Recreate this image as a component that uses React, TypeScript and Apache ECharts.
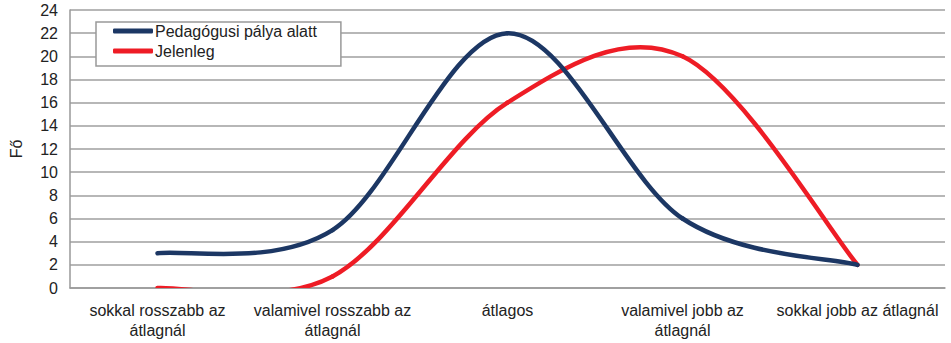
import React, { useEffect, useRef } from "react";
import * as echarts from "echarts";

const categories = [
  "sokkal rosszabb az\nátlagnál",
  "valamivel rosszabb az\nátlagnál",
  "átlagos",
  "valamivel jobb az\nátlagnál",
  "sokkal jobb az átlagnál",
];
const seriesNames = ["Pedagógusi pálya alatt", "Jelenleg"];
const duringCareer = [3, 5, 22, 6, 2];
const currently = [0, 1, 16, 20, 2];
const yTicks = { min: 0, max: 24, interval: 2 };

const FONT = "'Liberation Sans', Arial, sans-serif";
const BLUE = "#1c3764";
const RED = "#ee1c25";

// Smoothed line drawn as cubic Bézier segments (Catmull-Rom style, 1/6 tension)
// through the points placed by the chart's own axes.
function smoothSeries(name: string, values: number[], color: string, z: number) {
  return {
    name,
    type: "custom",
    coordinateSystem: "cartesian2d",
    clip: true,
    z,
    itemStyle: { color },
    data: values.map((v, i) => [i, v]),
    encode: { x: 0, y: 1 },
    renderItem: (params: any, api: any) => {
      const i = params.dataIndex;
      const n = values.length;
      if (i >= n - 1) return null;
      const pt = (j: number) => {
        const k = Math.max(0, Math.min(n - 1, j));
        return api.coord([k, values[k]]);
      };
      const p0 = pt(i - 1);
      const p1 = pt(i);
      const p2 = pt(i + 1);
      const p3 = pt(i + 2);
      const cp1 = [p1[0] + (p2[0] - p0[0]) / 6, p1[1] + (p2[1] - p0[1]) / 6];
      const cp2 = [p2[0] - (p3[0] - p1[0]) / 6, p2[1] - (p3[1] - p1[1]) / 6];
      return {
        type: "bezierCurve",
        shape: {
          x1: p1[0],
          y1: p1[1],
          x2: p2[0],
          y2: p2[1],
          cpx1: cp1[0],
          cpy1: cp1[1],
          cpx2: cp2[0],
          cpy2: cp2[1],
        },
        style: { stroke: color, lineWidth: 4.5, fill: null, lineCap: "round" },
      };
    },
  };
}

export default function App() {
  const ref = useRef<HTMLDivElement>(null);

  useEffect(() => {
    if (!ref.current) return;
    const chart = echarts.init(ref.current, undefined, { renderer: "svg" });
    chart.setOption({
      animation: false,
      backgroundColor: "#ffffff",
      grid: { left: 69, right: 6, top: 10, bottom: 55 },
      legend: {
        orient: "vertical",
        left: 96,
        top: 22,
        padding: [1, 24, 7, 17],
        itemGap: 4,
        itemWidth: 40,
        itemHeight: 5,
        backgroundColor: "#ffffff",
        borderColor: "#999999",
        borderWidth: 1.5,
        data: [
          { name: seriesNames[0], icon: "roundRect", itemStyle: { color: BLUE } },
          { name: seriesNames[1], icon: "roundRect", itemStyle: { color: RED } },
        ],
        textStyle: {
          fontFamily: FONT,
          fontSize: 16,
          color: "#222222",
          lineHeight: 16,
          padding: [0, 0, 0, -3],
        },
      },
      xAxis: {
        type: "category",
        data: categories,
        boundaryGap: true,
        axisLine: { show: true, lineStyle: { color: "#999999", width: 1.5 } },
        axisTick: { show: false },
        axisLabel: {
          interval: 0,
          margin: 12,
          fontFamily: FONT,
          fontSize: 16,
          lineHeight: 20,
          color: "#222222",
        },
        splitLine: { show: false },
      },
      yAxis: {
        type: "value",
        min: yTicks.min,
        max: yTicks.max,
        interval: yTicks.interval,
        name: "Fő",
        nameLocation: "middle",
        nameRotate: 90,
        nameGap: 46,
        nameTextStyle: { fontFamily: FONT, fontSize: 16, color: "#222222" },
        axisLine: { show: true, lineStyle: { color: "#999999", width: 1.5 } },
        axisTick: { show: false },
        axisLabel: {
          margin: 12,
          fontFamily: FONT,
          fontSize: 16,
          color: "#222222",
        },
        splitLine: { show: true, lineStyle: { color: "#9f9f9f", width: 1.5 } },
      },
      series: [
        smoothSeries(seriesNames[0], duringCareer, BLUE, 3),
        smoothSeries(seriesNames[1], currently, RED, 2),
      ],
    });
    return () => chart.dispose();
  }, []);

  return <div ref={ref} style={{ width: 951, height: 343, position: "absolute", left: 0, top: 0 }} />;
}
